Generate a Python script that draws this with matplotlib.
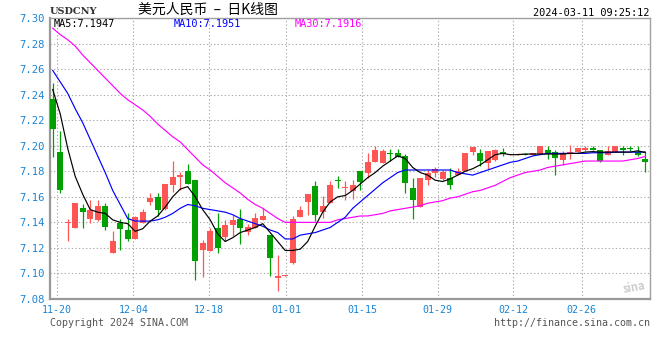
import matplotlib
matplotlib.use('Agg')
import matplotlib.pyplot as plt
import numpy as np

# daily candles (index 0 = first candle on the left)
opens = [7.2366, 7.1954, 7.1395, 7.1355, 7.1509, 7.1423, 7.1415, 7.1532, 7.1160, 7.1394,
         7.1342, 7.1267, 7.1397, 7.1558, 7.1597, 7.1501, 7.1696, 7.1754, 7.1806, 7.1728,
         7.1183, 7.1175, 7.1352, 7.1282, 7.1378, 7.1423, 7.1326, 7.1358, 7.1415, 7.1303,
         7.0964, 7.0980, 7.1084, 7.1444, 7.1558, 7.1688, 7.1482, 7.1553, 7.1730, 7.1667,
         7.1644, 7.1806, 7.1785, 7.1871, 7.1863, 7.1937, 7.1946, 7.1923, 7.1670, 7.1519,
         7.1730, 7.1785, 7.1743, 7.1748, 7.1774, 7.1800, 7.1951, 7.1946, 7.1865, 7.1886,
         7.1949, 7.1928, 7.1931, 7.1938, 7.1931, 7.1938, 7.1964, 7.1954, 7.1886, 7.1936,
         7.1954, 7.1970, 7.1985, 7.1970, 7.1925, 7.1951, 7.1985, 7.1976, 7.1951, 7.1900]
highs = [7.2490, 7.2118, 7.1423, 7.1555, 7.1540, 7.1574, 7.1579, 7.1548, 7.1329, 7.1428,
         7.1470, 7.1449, 7.1504, 7.1626, 7.1626, 7.1704, 7.1884, 7.1793, 7.1860, 7.1728,
         7.1259, 7.1358, 7.1475, 7.1415, 7.1454, 7.1501, 7.1391, 7.1475, 7.1511, 7.1303,
         7.1141, 7.0984, 7.1449, 7.1530, 7.1623, 7.1722, 7.1605, 7.1727, 7.1766, 7.1727,
         7.1735, 7.1806, 7.1944, 7.2001, 7.1975, 7.1975, 7.1975, 7.1938, 7.1748, 7.1748,
         7.1808, 7.1834, 7.1813, 7.1826, 7.1826, 7.1946, 7.1993, 7.1977, 7.1962, 7.1975,
         7.1983, 7.1938, 7.1940, 7.1940, 7.1943, 7.1996, 7.1996, 7.1970, 7.1957, 7.2003,
         7.1985, 7.1996, 7.2001, 7.1970, 7.2001, 7.2001, 7.2001, 7.2001, 7.1996, 7.1951]
lows = [7.1910, 7.1626, 7.1254, 7.1353, 7.1353, 7.1397, 7.1410, 7.1340, 7.1160, 7.1183,
        7.1254, 7.1267, 7.1397, 7.1538, 7.1449, 7.1493, 7.1637, 7.1657, 7.1700, 7.0949,
        7.0975, 7.1175, 7.1160, 7.1253, 7.1293, 7.1227, 7.1300, 7.1358, 7.1415, 7.0980,
        7.0860, 7.0978, 7.1076, 7.1444, 7.1460, 7.1410, 7.1436, 7.1553, 7.1670, 7.1579,
        7.1584, 7.1652, 7.1746, 7.1871, 7.1863, 7.1878, 7.1912, 7.1626, 7.1428, 7.1519,
        7.1696, 7.1759, 7.1735, 7.1665, 7.1774, 7.1800, 7.1931, 7.1839, 7.1819, 7.1881,
        7.1923, 7.1926, 7.1928, 7.1926, 7.1929, 7.1938, 7.1897, 7.1767, 7.1852, 7.1897,
        7.1954, 7.1957, 7.1970, 7.1871, 7.1925, 7.1951, 7.1925, 7.1962, 7.1918, 7.1793]
closes = [7.2134, 7.1652, 7.1398, 7.1553, 7.1480, 7.1493, 7.1532, 7.1363, 7.1251, 7.1345,
          7.1267, 7.1439, 7.1483, 7.1587, 7.1496, 7.1704, 7.1754, 7.1769, 7.1702, 7.1097,
          7.1235, 7.1329, 7.1199, 7.1381, 7.1415, 7.1355, 7.1365, 7.1431, 7.1446, 7.1121,
          7.0980, 7.0982, 7.1430, 7.1496, 7.1623, 7.1454, 7.1532, 7.1691, 7.1727, 7.1670,
          7.1696, 7.1714, 7.1876, 7.1970, 7.1962, 7.1934, 7.1912, 7.1709, 7.1574, 7.1748,
          7.1787, 7.1821, 7.1792, 7.1691, 7.1803, 7.1946, 7.1993, 7.1878, 7.1962, 7.1970,
          7.1936, 7.1938, 7.1938, 7.1928, 7.1941, 7.1996, 7.1933, 7.1902, 7.1938, 7.1954,
          7.1985, 7.1985, 7.1970, 7.1884, 7.1962, 7.1996, 7.1964, 7.1975, 7.1925, 7.1871]

# moving averages
ma5 = [7.244, 7.225, 7.198, 7.176, 7.162, 7.150, 7.148, 7.147, 7.142, 7.140,
       7.139, 7.133, 7.135, 7.141, 7.145, 7.152, 7.160, 7.166, 7.168, 7.160,
       7.150, 7.142, 7.131, 7.125, 7.128, 7.132, 7.134, 7.136, 7.139, 7.132,
       7.125, 7.118, 7.118, 7.119, 7.125, 7.137, 7.148, 7.156, 7.160, 7.161,
       7.165, 7.170, 7.175, 7.179, 7.184, 7.188, 7.192, 7.190, 7.183, 7.179,
       7.177, 7.173, 7.172, 7.174, 7.177, 7.180, 7.182, 7.185, 7.189, 7.193,
       7.194, 7.193, 7.193, 7.1935, 7.1935, 7.1935, 7.1935, 7.1935, 7.1935, 7.194,
       7.194, 7.195, 7.1954, 7.195, 7.195, 7.195, 7.195, 7.195, 7.196, 7.1947]
ma10 = [7.259, 7.250, 7.241, 7.229, 7.218, 7.205, 7.192, 7.179, 7.165, 7.154,
        7.143, 7.141, 7.141, 7.141, 7.142, 7.144, 7.147, 7.151, 7.154, 7.153,
        7.151, 7.150, 7.149, 7.148, 7.146, 7.143, 7.141, 7.139, 7.137, 7.134,
        7.132, 7.127, 7.127, 7.130, 7.131, 7.132, 7.134, 7.136, 7.140, 7.144,
        7.151, 7.156, 7.161, 7.166, 7.171, 7.175, 7.179, 7.181, 7.181, 7.181,
        7.181, 7.181, 7.181, 7.181, 7.179, 7.178, 7.177, 7.179, 7.181, 7.183,
        7.185, 7.187, 7.188, 7.190, 7.192, 7.193, 7.194, 7.194, 7.194, 7.194,
        7.194, 7.194, 7.1945, 7.1945, 7.1945, 7.195, 7.195, 7.195, 7.195, 7.1951]
ma30 = [7.292, 7.287, 7.283, 7.278, 7.271, 7.265, 7.259, 7.253, 7.247, 7.241,
        7.236, 7.232, 7.228, 7.223, 7.217, 7.212, 7.207, 7.203, 7.197, 7.191,
        7.185, 7.181, 7.176, 7.171, 7.167, 7.163, 7.158, 7.154, 7.151, 7.147,
        7.143, 7.140, 7.140, 7.140, 7.140, 7.140, 7.140, 7.140, 7.142, 7.143,
        7.144, 7.145, 7.145, 7.146, 7.147, 7.149, 7.150, 7.151, 7.152, 7.153,
        7.155, 7.156, 7.157, 7.159, 7.160, 7.162, 7.164, 7.165, 7.167, 7.169,
        7.172, 7.175, 7.177, 7.179, 7.180, 7.181, 7.183, 7.184, 7.185, 7.186,
        7.187, 7.188, 7.188, 7.188, 7.188, 7.188, 7.188, 7.189, 7.190, 7.1916]

date_labels = ['11-20', '12-04', '12-18', '01-01', '01-15', '01-29', '02-12', '02-26']
date_pos = [0.61, 10.75, 20.87, 31.11, 41.24, 51.33, 61.41, 70.53]
y_ticks = [7.08, 7.10, 7.12, 7.14, 7.16, 7.18, 7.20, 7.22, 7.24, 7.26, 7.28, 7.30]

UP = '#ff5555'
DOWN = '#00a000'
W, H = 660, 360

mono = 'DejaVu Sans Mono'
plt.rcParams['font.family'] = ['Noto Sans CJK SC', 'DejaVu Sans']

fig = plt.figure(figsize=(6.6, 3.6), dpi=100)
ax = fig.add_axes([50 / W, 1 - 299 / H, 600 / W, 281 / H])

x = np.arange(len(opens))
o = np.array(opens)
c = np.array(closes)
colors = [UP if cc >= oo else DOWN for oo, cc in zip(o, c)]

# wicks then bodies
ax.vlines(x, lows, highs, colors=colors, linewidth=0.9, zorder=3)
body_h = np.maximum(np.abs(c - o), 0.0007)
body_b = np.minimum(o, c)
ax.bar(x, body_h, bottom=body_b, width=0.76, color=colors, linewidth=0, zorder=4)

ax.plot(x, ma30, color='#ff00ff', linewidth=0.85, zorder=5)
ax.plot(x, ma10, color='#0000ff', linewidth=0.85, zorder=5)
ax.plot(x, ma5, color='black', linewidth=0.85, zorder=5)

ax.set_xlim(-0.36, 79.64)
ax.set_ylim(7.08, 7.30)

ax.set_yticks(y_ticks)
ax.set_yticklabels(['%.2f' % v for v in y_ticks], fontfamily=mono, fontsize=7.6, color='#1a84d4')
ax.set_xticks(date_pos)
ax.set_xticklabels(date_labels, fontfamily=mono, fontsize=7.2, color='#1a84d4')
ax.tick_params(axis='both', length=0, pad=4)

ax.grid(True, color='#aaaaaa', linestyle=(0, (1.2, 2.0)), linewidth=0.8, zorder=0)
ax.set_axisbelow(True)

for s in ['top', 'right']:
    ax.spines[s].set_color('#a0a0a0')
    ax.spines[s].set_linewidth(1.0)
for s in ['left', 'bottom']:
    ax.spines[s].set_color('#999999')
    ax.spines[s].set_linewidth(1.6)

# header texts
fig.text(50 / W, 1 - 12 / H, 'USDCNY', fontfamily='DejaVu Serif', fontsize=7, fontweight='bold',
         color='#333333', va='center', ha='left')
fig.text(208 / W, 1 - 10 / H, '美元人民币  –  日K线图', fontsize=10, color='black',
         va='center', ha='center')
fig.text(649 / W, 1 - 12.5 / H, '2024-03-11 09:25:12', fontfamily=mono, fontsize=7.4,
         color='black', va='center', ha='right')

fig.text(54 / W, 1 - 24 / H, 'MA5:7.1947', fontfamily=mono, fontsize=7.4, color='black', va='center')
fig.text(174 / W, 1 - 24 / H, 'MA10:7.1951', fontfamily=mono, fontsize=7.4, color='#0000ff', va='center')
fig.text(295 / W, 1 - 24 / H, 'MA30:7.1916', fontfamily=mono, fontsize=7.4, color='#ff00ff', va='center')

# footer
fig.text(50 / W, 1 - 323 / H, 'Copyright 2024 SINA.COM', fontfamily=mono, fontsize=7.2,
         color='#555555', va='center', ha='left')
fig.text(650 / W, 1 - 323 / H, 'http://finance.sina.com.cn', fontfamily=mono, fontsize=7.2,
         color='#555555', va='center', ha='right')

# faint watermark
fig.text(634 / W, 1 - 288 / H, 'sina', fontsize=8, fontstyle='italic', fontweight='bold',
         color='#cccccc', va='center', ha='center', rotation=10)

fig.savefig('out.png', dpi=100)
